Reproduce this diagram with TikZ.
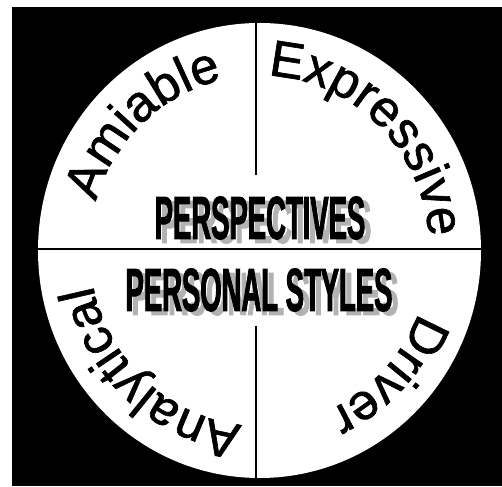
\documentclass[tikz,border=0pt]{standalone}
\usepackage{fontspec}
\setmainfont{Liberation Sans}
\newfontfamily\condfont[FakeStretch=0.45, BoldFeatures={FakeBold=1.4}]{Liberation Sans}
\newfontfamily\ringfont[FakeBold=1.3]{Liberation Sans}
\usetikzlibrary{decorations.text}
\newcommand\arcfont{\ringfont\fontsize{51}{51}\selectfont}
\tikzset{
  divider/.style={line width=1.5pt},
  arcword/.style={decorate, decoration={text along path, text align=center, text={|\arcfont|#1}}},
  title/.style={font=\condfont\bfseries\fontsize{61}{61}\selectfont, inner sep=0pt},
  shade/.style={title, text=black!30}
}
\begin{document}
\begin{tikzpicture}[x=1pt, y=1pt]
  \useasboundingbox (-259.5,-235.5) rectangle (242.5,250.5);
  \fill[black] (-247.5,-235.5) rectangle (242.5,243.5);
  \fill[white] (0,0) ellipse [x radius=221.5, y radius=227.5];

  \draw[divider] (-221.5,1.5) -- (221.5,1.5);
  \draw[divider] (-3.5,227.5) -- (-3.5,75.5);
  \draw[divider] (-3.5,-75.5) -- (-3.5,-227.5);

  \path[arcword=Amiable] (178:170 and 175) arc[start angle=178, end angle=88, x radius=170, y radius=175];
  \path[arcword=Expressive] (105:170 and 175) arc[start angle=105, end angle=-13, x radius=170, y radius=175];
  \path[arcword=Driver] (-3:170 and 175) arc[start angle=-3, end angle=-84, x radius=170, y radius=175];
  \path[arcword=Analytical] (-80:170 and 175) arc[start angle=-80, end angle=-184, x radius=170, y radius=175];

  \node[shade] (perspshade) at (6.5,28.5) {PERSPECTIVES};
  \node[title] (persp) at (0.5,32.5) {PERSPECTIVES};
  \node[shade] (stylesshade) at (5.5,-43.5) {PERSONAL STYLES};
  \node[title] (styles) at (-0.5,-39.5) {PERSONAL STYLES};
\end{tikzpicture}
\end{document}
